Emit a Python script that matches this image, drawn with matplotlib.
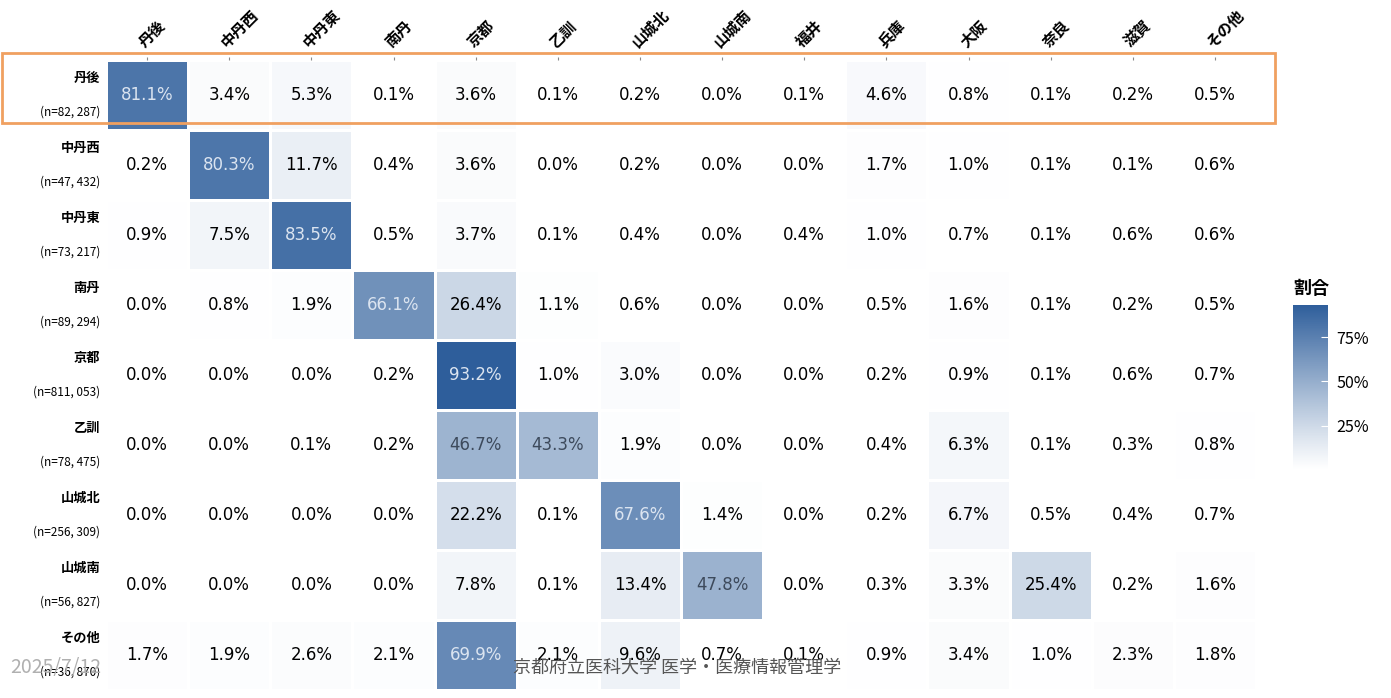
import matplotlib
matplotlib.use("Agg")
import matplotlib.pyplot as plt
import matplotlib.patches as patches
from matplotlib.colors import LinearSegmentedColormap
import numpy as np

plt.rcParams['font.family'] = ['Noto Sans CJK JP', 'DejaVu Sans']

# origin (rows) and destination (columns) regions
rows = ["丹後", "中丹西", "中丹東", "南丹", "京都", "乙訓", "山城北", "山城南", "その他"]
row_n = ["82, 287", "47, 432", "73, 217", "89, 294", "811, 053", "78, 475",
         "256, 309", "56, 827", "36, 870"]
cols = ["丹後", "中丹西", "中丹東", "南丹", "京都", "乙訓", "山城北", "山城南",
        "福井", "兵庫", "大阪", "奈良", "滋賀", "その他"]

# share (%) per row
pct = np.array([
    [81.1, 3.4, 5.3, 0.1, 3.6, 0.1, 0.2, 0.0, 0.1, 4.6, 0.8, 0.1, 0.2, 0.5],
    [0.2, 80.3, 11.7, 0.4, 3.6, 0.0, 0.2, 0.0, 0.0, 1.7, 1.0, 0.1, 0.1, 0.6],
    [0.9, 7.5, 83.5, 0.5, 3.7, 0.1, 0.4, 0.0, 0.4, 1.0, 0.7, 0.1, 0.6, 0.6],
    [0.0, 0.8, 1.9, 66.1, 26.4, 1.1, 0.6, 0.0, 0.0, 0.5, 1.6, 0.1, 0.2, 0.5],
    [0.0, 0.0, 0.0, 0.2, 93.2, 1.0, 3.0, 0.0, 0.0, 0.2, 0.9, 0.1, 0.6, 0.7],
    [0.0, 0.0, 0.1, 0.2, 46.7, 43.3, 1.9, 0.0, 0.0, 0.4, 6.3, 0.1, 0.3, 0.8],
    [0.0, 0.0, 0.0, 0.0, 22.2, 0.1, 67.6, 1.4, 0.0, 0.2, 6.7, 0.5, 0.4, 0.7],
    [0.0, 0.0, 0.0, 0.0, 7.8, 0.1, 13.4, 47.8, 0.0, 0.3, 3.3, 25.4, 0.2, 1.6],
    [1.7, 1.9, 2.6, 2.1, 69.9, 2.1, 9.6, 0.7, 0.1, 0.9, 3.4, 1.0, 2.3, 1.8],
])

cmap = LinearSegmentedColormap.from_list("blues_custom", ["#ffffff", "#2e5e9b"], gamma=1.1)

fig = plt.figure(figsize=(13.91, 6.98), dpi=100)
ax = fig.add_axes([0.0762, 0.0115, 0.8268, 0.9025])

vmax = pct.max() / 100
mesh = ax.pcolormesh(pct / 100, cmap=cmap, vmin=0, vmax=vmax,
                     edgecolors="white", linewidth=2)
ax.set_xlim(0, len(cols))
ax.set_ylim(len(rows), 0)

# cell labels
for i in range(len(rows)):
    for j in range(len(cols)):
        v = pct[i, j]
        if v >= 60:
            c = "#dbe4f0"
        elif v >= 35:
            c = "#3d4a5c"
        else:
            c = "black"
        ax.text(j + 0.5, i + 0.5, f"{v:.1f}%", ha="center", va="center",
                fontsize=12, color=c, family=['DejaVu Sans'])

# column labels on top
ax.xaxis.tick_top()
ax.set_xticks(np.arange(len(cols)) + 0.5)
ax.set_xticklabels(cols, rotation=45, ha="left", va="bottom",
                   rotation_mode="anchor", fontsize=11, fontweight="bold")
ax.tick_params(axis="x", length=2, pad=5, color="#888888")
ax.set_yticks([])
for s in ax.spines.values():
    s.set_visible(False)

# row labels: name and n
for i, (r, n) in enumerate(zip(rows, row_n)):
    ax.text(-0.07, i + 0.26, r, ha="right", va="center", fontsize=9.5,
            fontweight="bold", transform=ax.transData)
    ax.text(-0.07, i + 0.75, f"(n={n})", ha="right", va="center", fontsize=8.5,
            transform=ax.transData)

# highlight frame around first row
fig.patches.append(patches.Rectangle((2 / 1391, 1 - 123 / 698), 1273 / 1391, 70 / 698,
                                     transform=fig.transFigure, fill=False,
                                     edgecolor="#f0a060", linewidth=2))

# colorbar
cax = fig.add_axes([1293 / 1391, 1 - 470 / 698, 35 / 1391, 165 / 698])
cb = fig.colorbar(mesh, cax=cax, ticks=[0.25, 0.5, 0.75])
cb.set_ticklabels(["25%", "50%", "75%"])
cb.outline.set_visible(False)
cax.tick_params(length=5, color="white", direction="in", labelsize=11.5, pad=6)
cax.set_title("割合", loc="left", fontsize=13, fontweight="bold", pad=8)

# footer overlay texts
fig.text(10 / 1391, 1 - 668 / 698, "2025/7/12", fontsize=14, color="#b0b0b0",
         va="center", ha="left")
fig.text(513 / 1391, 1 - 668 / 698, "京都府立医科大学 医学・医療情報管理学",
         fontsize=13, color="#555555", va="center", ha="left")

fig.savefig("out.png", dpi=100)
